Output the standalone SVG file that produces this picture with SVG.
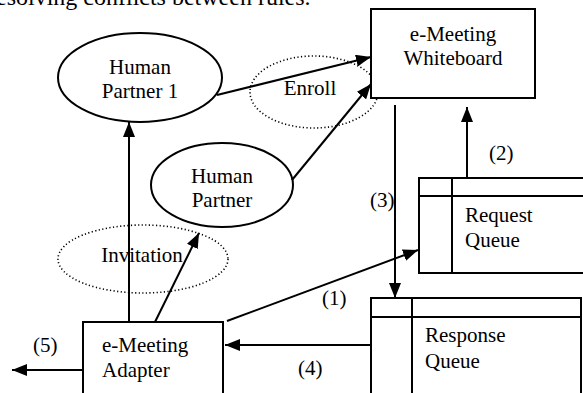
<svg xmlns="http://www.w3.org/2000/svg" width="583" height="393" viewBox="0 0 583 393">
<defs>
<style>
text{font-family:"Liberation Serif","Times New Roman",serif;font-size:21px;fill:#000}
.box{fill:#fff;stroke:#000;stroke-width:2}
.ell{fill:#fff;stroke:#000;stroke-width:2}
.dot{fill:none;stroke:#000;stroke-width:1.6;stroke-dasharray:1.2 2.4}
.ln{fill:none;stroke:#000;stroke-width:2}
.c{text-anchor:middle}
</style>
<marker id="ah" markerUnits="userSpaceOnUse" markerWidth="15" markerHeight="12" refX="15" refY="6" orient="auto">
<path d="M0,0 L15,6 L0,12 z" fill="#000"/>
</marker>
</defs>
<rect width="583" height="393" fill="#fff"/>
<text x="-12" y="5" style="font-size:24px">resolving conflicts between rules.</text>

<g id="enroll">
<ellipse class="dot" cx="314" cy="92" rx="64" ry="36"/>
<text class="c" x="310" y="95">Enroll</text>
</g>
<g id="invitation">
<ellipse class="dot" cx="143" cy="259" rx="85" ry="34"/>
<text class="c" x="142" y="262">Invitation</text>
</g>

<g id="human-partner-1">
<ellipse class="ell" cx="140" cy="77.5" rx="82" ry="44.5"/>
<text class="c" x="140" y="74">Human</text>
<text class="c" x="140" y="98">Partner 1</text>
</g>
<g id="human-partner">
<ellipse class="ell" cx="222" cy="185" rx="71" ry="42"/>
<text class="c" x="222" y="183">Human</text>
<text class="c" x="222" y="207">Partner</text>
</g>
<g id="whiteboard">
<rect class="box" x="371" y="9" width="164" height="89"/>
<text class="c" x="453" y="41">e-Meeting</text>
<text class="c" x="453" y="65">Whiteboard</text>
</g>
<g id="request-queue">
<rect class="box" x="419" y="178" width="180" height="95"/>
<line class="ln" x1="419" y1="196" x2="590" y2="196"/>
<line class="ln" x1="452" y1="178" x2="452" y2="273"/>
<text x="465" y="222">Request</text>
<text x="465" y="247">Queue</text>
</g>
<g id="response-queue">
<rect class="box" x="371" y="298" width="210" height="110"/>
<line class="ln" x1="371" y1="317" x2="581" y2="317"/>
<line class="ln" x1="412" y1="298" x2="412" y2="400"/>
<text x="425" y="342">Response</text>
<text x="425" y="368">Queue</text>
</g>
<g id="adapter">
<rect class="box" x="83" y="322" width="140" height="90"/>
<text x="102" y="352">e-Meeting</text>
<text x="102" y="377">Adapter</text>
</g>

<g id="connectors">
<line class="ln" x1="129" y1="322" x2="129" y2="122" marker-end="url(#ah)"/>
<line class="ln" x1="155" y1="322" x2="199" y2="233" marker-end="url(#ah)"/>
<line class="ln" x1="217" y1="95" x2="371" y2="57" marker-end="url(#ah)"/>
<line class="ln" x1="292" y1="180" x2="371" y2="84" marker-end="url(#ah)"/>
<line class="ln" x1="395" y1="105" x2="395" y2="298" marker-end="url(#ah)"/>
<line class="ln" x1="467" y1="178" x2="467" y2="107" marker-end="url(#ah)"/>
<line class="ln" x1="227" y1="321" x2="418" y2="250" marker-end="url(#ah)"/>
<line class="ln" x1="371" y1="345" x2="225" y2="345" marker-end="url(#ah)"/>
<line class="ln" x1="83" y1="370" x2="12" y2="370" marker-end="url(#ah)"/>
<text x="322" y="305">(1)</text>
<text x="489" y="160">(2)</text>
<text x="370" y="207">(3)</text>
<text x="298" y="375">(4)</text>
<text x="33" y="352">(5)</text>
</g>
</svg>
